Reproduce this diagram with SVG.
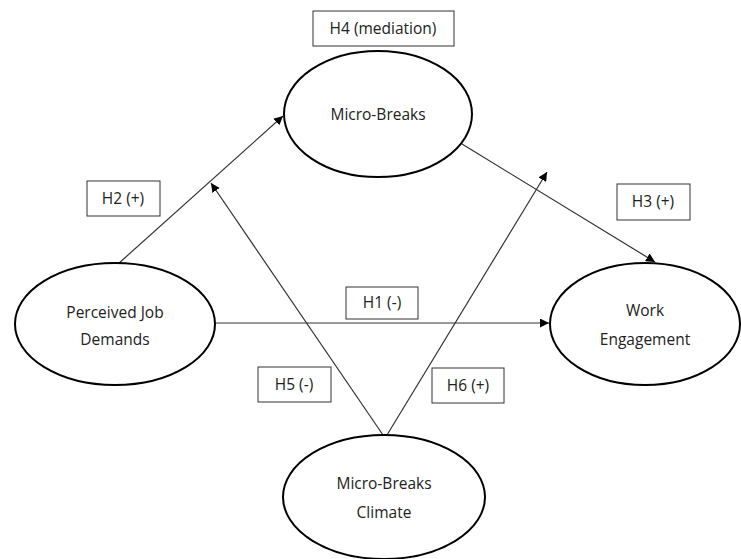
<svg xmlns="http://www.w3.org/2000/svg" width="741" height="559" viewBox="0 0 741 559">
<defs>
<style>
.node ellipse{fill:#fff;stroke:#000;stroke-width:2}
.lbl rect{fill:#fff;stroke:#333;stroke-width:1}
text{font-family:"Open Sans","Liberation Sans",sans-serif;font-size:15.5px;fill:#222;text-anchor:middle}
.conn line{stroke:#333;stroke-width:1.2;marker-end:url(#ah)}
</style>
<marker id="ah" viewBox="0 0 10 10" refX="10" refY="5" markerWidth="9" markerHeight="9" markerUnits="userSpaceOnUse" orient="auto">
<path d="M0,0L10,5L0,10z" fill="#000"/>
</marker>
</defs>
<rect width="741" height="559" fill="#fff"/>
<g class="conn" id="connectors">
<line x1="118" y1="264" x2="283" y2="116"/>
<line x1="462" y1="144" x2="655" y2="262"/>
<line x1="215" y1="323" x2="549" y2="323"/>
<line x1="383" y1="435" x2="211" y2="183"/>
<line x1="387" y1="435" x2="547" y2="172"/>
</g>
<g class="node" id="micro-breaks">
<ellipse cx="378" cy="114" rx="94" ry="63"/>
<text x="378" y="120">Micro-Breaks</text>
</g>
<g class="node" id="perceived-job-demands">
<ellipse cx="115" cy="324" rx="100" ry="61"/>
<text x="115" y="318">Perceived Job</text>
<text x="115" y="345">Demands</text>
</g>
<g class="node" id="work-engagement">
<ellipse cx="645" cy="324" rx="95" ry="61"/>
<text x="645" y="316">Work</text>
<text x="645" y="345">Engagement</text>
</g>
<g class="node" id="micro-breaks-climate">
<ellipse cx="384" cy="497" rx="101" ry="62"/>
<text x="384" y="489">Micro-Breaks</text>
<text x="384" y="518">Climate</text>
</g>
<g class="lbl" id="h4">
<rect x="313" y="11" width="141" height="35"/>
<text x="383" y="34">H4 (mediation)</text>
</g>
<g class="lbl" id="h2">
<rect x="87" y="181" width="73" height="35"/>
<text x="123" y="204">H2 (+)</text>
</g>
<g class="lbl" id="h3">
<rect x="617" y="184" width="73" height="36"/>
<text x="653" y="207">H3 (+)</text>
</g>
<g class="lbl" id="h1">
<rect x="346" y="287" width="72" height="32"/>
<text x="382" y="308">H1 (-)</text>
</g>
<g class="lbl" id="h5">
<rect x="258" y="367" width="73" height="35"/>
<text x="294" y="390">H5 (-)</text>
</g>
<g class="lbl" id="h6">
<rect x="432" y="368" width="72" height="35"/>
<text x="468" y="391">H6 (+)</text>
</g>
</svg>
